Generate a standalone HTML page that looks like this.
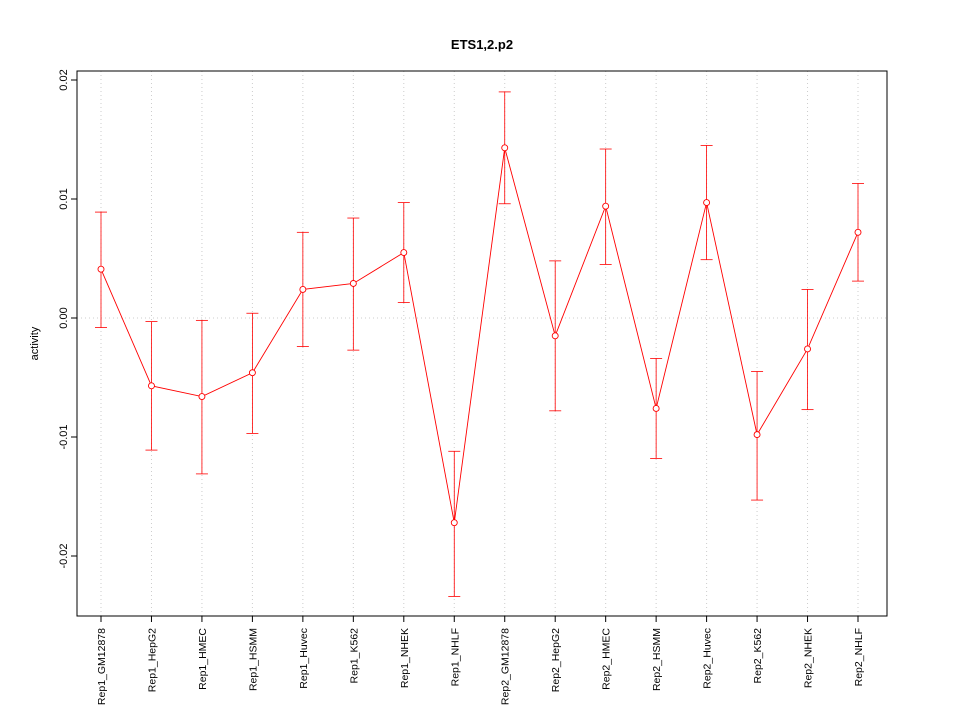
<!DOCTYPE html>
<html><head><meta charset="utf-8"><style>body{margin:0;background:#fff}svg{display:block;font-family:"Liberation Sans",sans-serif}</style></head>
<body>
<svg id="c" width="960" height="720"></svg>
<script>
const categories=["Rep1_GM12878","Rep1_HepG2","Rep1_HMEC","Rep1_HSMM","Rep1_Huvec","Rep1_K562","Rep1_NHEK","Rep1_NHLF","Rep2_GM12878","Rep2_HepG2","Rep2_HMEC","Rep2_HSMM","Rep2_Huvec","Rep2_K562","Rep2_NHEK","Rep2_NHLF"];
const values=[0.0041,-0.0057,-0.0066,-0.0046,0.0024,0.0029,0.0055,-0.0172,0.0143,-0.0015,0.0094,-0.0076,0.0097,-0.0098,-0.0026,0.0072];
const upper=[0.0089,-0.0003,-0.0002,0.0004,0.0072,0.0084,0.0097,-0.0112,0.0190,0.0048,0.0142,-0.0034,0.0145,-0.0045,0.0024,0.0113];
const lower=[-0.0008,-0.0111,-0.0131,-0.0097,-0.0024,-0.0027,0.0013,-0.0234,0.0096,-0.0078,0.0045,-0.0118,0.0049,-0.0153,-0.0077,0.0031];
const yTicks=[-0.02,-0.01,0.00,0.01,0.02];
const yLabels=["-0.02","-0.01","0.00","0.01","0.02"];
const svg=document.getElementById('c');const NS="http://www.w3.org/2000/svg";
function mk(t,a,p){const e=document.createElementNS(NS,t);for(const k in a)e.setAttribute(k,a[k]);(p||svg).appendChild(e);return e;}
const L=77,R=887,T=71,B=616;
const y=v=>318-v*11900;
const x=i=>101+i*(858-101)/15;
categories.forEach((c,i)=>{const g=mk('line',{x1:x(i),x2:x(i),y1:T,y2:B,stroke:'#ccc','stroke-dasharray':'1,3'});

});
const hg=mk('line',{x1:L,x2:R,y1:y(0),y2:y(0),stroke:'#ccc','stroke-dasharray':'1,3'});

const fr=mk('rect',{x:L,y:T,width:R-L,height:B-T,fill:'none',stroke:'#000'});

yTicks.forEach((v,i)=>{const t=mk('line',{x1:L-6,x2:L,y1:y(v),y2:y(v),stroke:'#000'});

const tx=mk('text',{x:0,y:0,'font-size':11,'text-anchor':'middle',transform:`translate(${L-10},${y(v)}) rotate(-90)`});
tx.textContent=yLabels[i];});
const yt=mk('text',{x:0,y:0,'font-size':11,'text-anchor':'middle',transform:`translate(38,${(T+B)/2}) rotate(-90)`});
yt.textContent='activity';
const ti=mk('text',{x:(L+R)/2,y:49,'font-size':13,'font-weight':'bold','text-anchor':'middle'});
ti.textContent='ETS1,2.p2';
categories.forEach((c,i)=>{const t=mk('line',{x1:x(i),x2:x(i),y1:B,y2:B+6,stroke:'#000'});

const tx=mk('text',{x:0,y:0,'font-size':10.5,'text-anchor':'end',transform:`translate(${x(i)+4},${B+12}) rotate(-90)`});
tx.textContent=c;});
categories.forEach((c,i)=>{const g=mk('g',{stroke:'#f00',fill:'none','stroke-width':0.8});

mk('line',{x1:x(i),x2:x(i),y1:y(upper[i]),y2:y(lower[i])},g);
mk('line',{x1:x(i)-6,x2:x(i)+6,y1:y(upper[i]),y2:y(upper[i])},g);
mk('line',{x1:x(i)-6,x2:x(i)+6,y1:y(lower[i]),y2:y(lower[i])},g);});
const ln=mk('polyline',{points:values.map((v,i)=>x(i)+','+y(v)).join(' '),fill:'none',stroke:'#f00','stroke-width':0.9});

values.forEach((v,i)=>{const p=mk('circle',{cx:x(i),cy:y(v),r:3,fill:'#fff',stroke:'#f00','stroke-width':0.9});
});
</script>
</body></html>
